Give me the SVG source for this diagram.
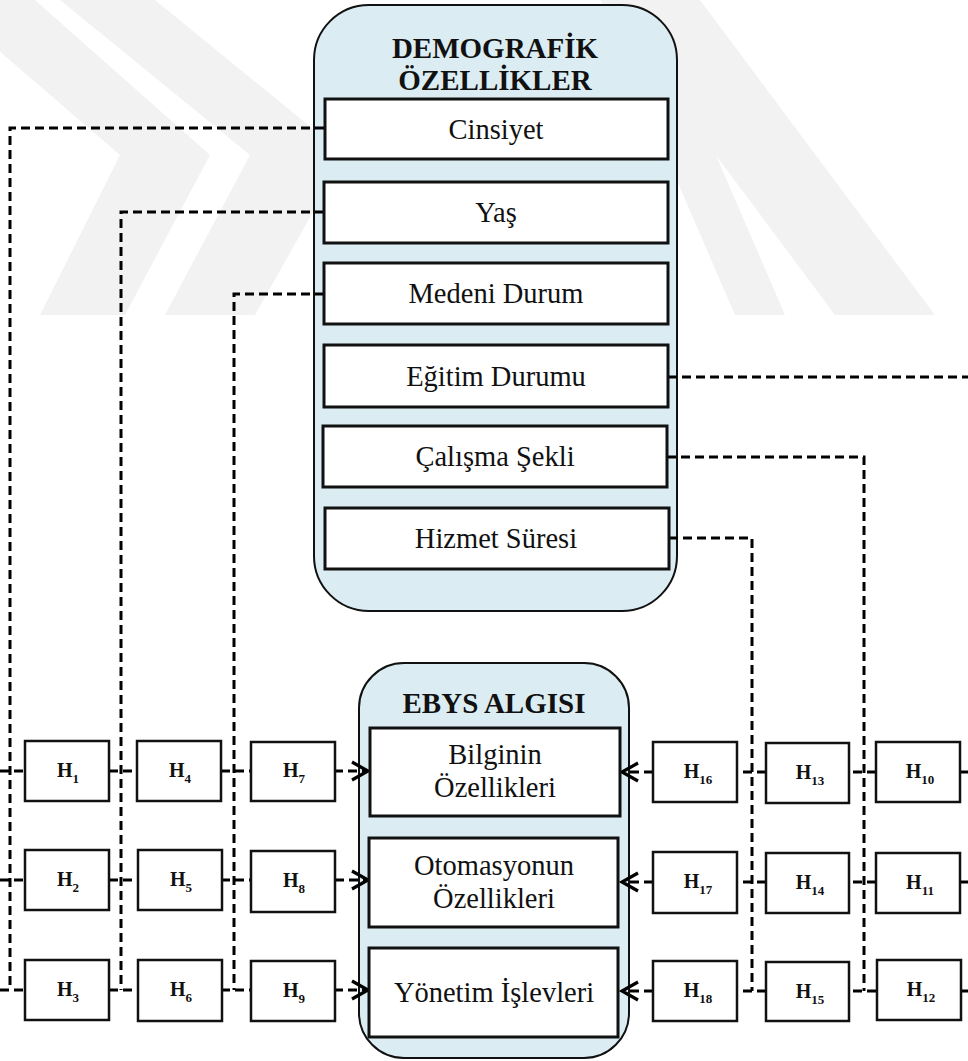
<svg xmlns="http://www.w3.org/2000/svg" width="968" height="1061" viewBox="0 0 968 1061">
  <defs>
    <marker id="arrow" markerUnits="userSpaceOnUse" markerWidth="24" markerHeight="24" viewBox="0 0 24 24" refX="19" refY="12" orient="auto">
      <path d="M3,3 L19,12 L3,21" fill="none" stroke="#000" stroke-width="3.2" stroke-linejoin="miter"/>
    </marker>
    <style>
      .wm { fill: #f2f2f2; }
      .group { fill: #dbedf3; stroke: #111; stroke-width: 2; }
      .item { fill: #fff; stroke: #111; stroke-width: 3; }
      .hyp { fill: #fff; stroke: #111; stroke-width: 2.5; }
      .title { font-family: "Liberation Serif", "Times New Roman", Times, serif; font-weight: bold; font-size: 29px; fill: #111; text-anchor: middle; }
      .label { font-family: "Liberation Serif", "Times New Roman", Times, serif; font-size: 28.5px; fill: #111; text-anchor: middle; }
      .h { font-family: "Liberation Serif", "Times New Roman", Times, serif; font-weight: bold; font-size: 20px; fill: #111; text-anchor: middle; }
      .h tspan { font-size: 13px; }
      .link { fill: none; stroke: #000; stroke-width: 3; stroke-dasharray: 9 5; }
    </style>
  </defs>

  <rect width="968" height="1061" fill="#fff"/>

  <!-- faint background logo -->
  <g id="watermark">
    <polygon class="wm" points="-60,0 35,0 210,155 125,315 40,315 120,155"/>
    <polygon class="wm" points="60,0 155,0 345,155 255,315 165,315 250,155"/>
    <polygon class="wm" points="600,0 700,0 935,315 835,315"/>
    <polygon class="wm" points="640,95 690,95 785,315 735,315"/>
  </g>

  <!-- group containers -->
  <g id="demografik">
    <rect class="group" x="314" y="5" width="363" height="606" rx="55" ry="55"/>
    <text class="title" x="495" y="58">DEMOGRAFİK</text>
    <text class="title" x="495" y="90">ÖZELLİKLER</text>
  </g>
  <g id="ebys">
    <rect class="group" x="359" y="663" width="270" height="395" rx="45" ry="45"/>
    <text class="title" x="494" y="713">EBYS ALGISI</text>
  </g>

  <!-- connectors -->
  <g id="connectors">
    <!-- Cinsiyet -> H1..H3 -->
    <path class="link" d="M324,128 H10 V990"/>
    <!-- Yaş -> H4..H6 -->
    <path class="link" d="M324,212 H121 V990"/>
    <!-- Medeni Durum -> H7..H9 -->
    <path class="link" d="M324,294 H234 V990"/>
    <!-- Eğitim Durumu -> H10..H12 -->
    <path class="link" d="M668,377 H968"/>
    <!-- Çalışma Şekli -> H13..H15 -->
    <path class="link" d="M667,457 H864 V991"/>
    <!-- Hizmet Süresi -> H16..H18 -->
    <path class="link" d="M669,538 H752 V991"/>

    <!-- left rows -->
    <path class="link" d="M0,771 H25 M109,771 H137 M221,771 H251"/>
    <path class="link" d="M334,771 H368" marker-end="url(#arrow)"/>
    <path class="link" d="M0,880 H25 M109,880 H137 M221,880 H251"/>
    <path class="link" d="M335,880 H368" marker-end="url(#arrow)"/>
    <path class="link" d="M0,990 H25 M109,990 H137 M221,990 H251"/>
    <path class="link" d="M334,990 H368" marker-end="url(#arrow)"/>

    <!-- right rows -->
    <path class="link" d="M968,772 H960 M876,772 H849 M766,772 H737"/>
    <path class="link" d="M653,772 H622" marker-end="url(#arrow)"/>
    <path class="link" d="M968,882 H960 M876,882 H849 M766,882 H737"/>
    <path class="link" d="M653,882 H622" marker-end="url(#arrow)"/>
    <path class="link" d="M968,991 H960 M876,991 H849 M766,991 H737"/>
    <path class="link" d="M653,991 H622" marker-end="url(#arrow)"/>
  </g>

  <!-- demographic items -->
  <g id="cinsiyet">
    <rect class="item" x="325" y="99" width="343" height="60"/>
    <text class="label" x="496" y="138.5">Cinsiyet</text>
  </g>
  <g id="yas">
    <rect class="item" x="324" y="182" width="344" height="61"/>
    <text class="label" x="496" y="222">Yaş</text>
  </g>
  <g id="medeni-durum">
    <rect class="item" x="324" y="263" width="344" height="61"/>
    <text class="label" x="496" y="303">Medeni Durum</text>
  </g>
  <g id="egitim-durumu">
    <rect class="item" x="324" y="345" width="344" height="62"/>
    <text class="label" x="496" y="385.5">Eğitim Durumu</text>
  </g>
  <g id="calisma-sekli">
    <rect class="item" x="323" y="426" width="344" height="61"/>
    <text class="label" x="495" y="466">Çalışma Şekli</text>
  </g>
  <g id="hizmet-suresi">
    <rect class="item" x="325" y="508" width="344" height="61"/>
    <text class="label" x="496" y="548">Hizmet Süresi</text>
  </g>

  <!-- perception items -->
  <g id="bilginin-ozellikleri">
    <rect class="item" x="370" y="728" width="250" height="88"/>
    <text class="label" x="495" y="764">Bilginin</text>
    <text class="label" x="495" y="797">Özellikleri</text>
  </g>
  <g id="otomasyonun-ozellikleri">
    <rect class="item" x="369" y="838" width="249" height="89"/>
    <text class="label" x="494" y="875">Otomasyonun</text>
    <text class="label" x="494" y="908">Özellikleri</text>
  </g>
  <g id="yonetim-islevleri">
    <rect class="item" x="369" y="948" width="249" height="89"/>
    <text class="label" x="494" y="1002">Yönetim İşlevleri</text>
  </g>

  <!-- hypotheses, left side -->
  <g id="h1"><rect class="hyp" x="25" y="741" width="84" height="60"/><text class="h" x="68" y="777">H<tspan dy="6">1</tspan></text></g>
  <g id="h2"><rect class="hyp" x="25" y="850" width="84" height="60"/><text class="h" x="68" y="886">H<tspan dy="6">2</tspan></text></g>
  <g id="h3"><rect class="hyp" x="25" y="960" width="84" height="60"/><text class="h" x="68" y="996">H<tspan dy="6">3</tspan></text></g>
  <g id="h4"><rect class="hyp" x="137" y="741" width="84" height="60"/><text class="h" x="180" y="777">H<tspan dy="6">4</tspan></text></g>
  <g id="h5"><rect class="hyp" x="138" y="850" width="84" height="60"/><text class="h" x="181" y="886">H<tspan dy="6">5</tspan></text></g>
  <g id="h6"><rect class="hyp" x="138" y="960" width="84" height="61"/><text class="h" x="181" y="996">H<tspan dy="6">6</tspan></text></g>
  <g id="h7"><rect class="hyp" x="251" y="742" width="84" height="59"/><text class="h" x="294" y="777">H<tspan dy="6">7</tspan></text></g>
  <g id="h8"><rect class="hyp" x="251" y="851" width="84" height="61"/><text class="h" x="294" y="887">H<tspan dy="6">8</tspan></text></g>
  <g id="h9"><rect class="hyp" x="251" y="961" width="84" height="60"/><text class="h" x="294" y="997">H<tspan dy="6">9</tspan></text></g>

  <!-- hypotheses, right side -->
  <g id="h16"><rect class="hyp" x="653" y="742" width="84" height="60"/><text class="h" x="698" y="778">H<tspan dy="6">16</tspan></text></g>
  <g id="h17"><rect class="hyp" x="653" y="852" width="84" height="61"/><text class="h" x="698" y="888">H<tspan dy="6">17</tspan></text></g>
  <g id="h18"><rect class="hyp" x="653" y="961" width="84" height="60"/><text class="h" x="698" y="997">H<tspan dy="6">18</tspan></text></g>
  <g id="h13"><rect class="hyp" x="766" y="743" width="83" height="60"/><text class="h" x="810" y="779">H<tspan dy="6">13</tspan></text></g>
  <g id="h14"><rect class="hyp" x="766" y="853" width="83" height="60"/><text class="h" x="810" y="889">H<tspan dy="6">14</tspan></text></g>
  <g id="h15"><rect class="hyp" x="766" y="962" width="83" height="59"/><text class="h" x="810" y="998">H<tspan dy="6">15</tspan></text></g>
  <g id="h10"><rect class="hyp" x="876" y="742" width="84" height="60"/><text class="h" x="920" y="778">H<tspan dy="6">10</tspan></text></g>
  <g id="h11"><rect class="hyp" x="876" y="853" width="84" height="60"/><text class="h" x="920" y="889">H<tspan dy="6">11</tspan></text></g>
  <g id="h12"><rect class="hyp" x="877" y="960" width="84" height="60"/><text class="h" x="921" y="996">H<tspan dy="6">12</tspan></text></g>
</svg>
